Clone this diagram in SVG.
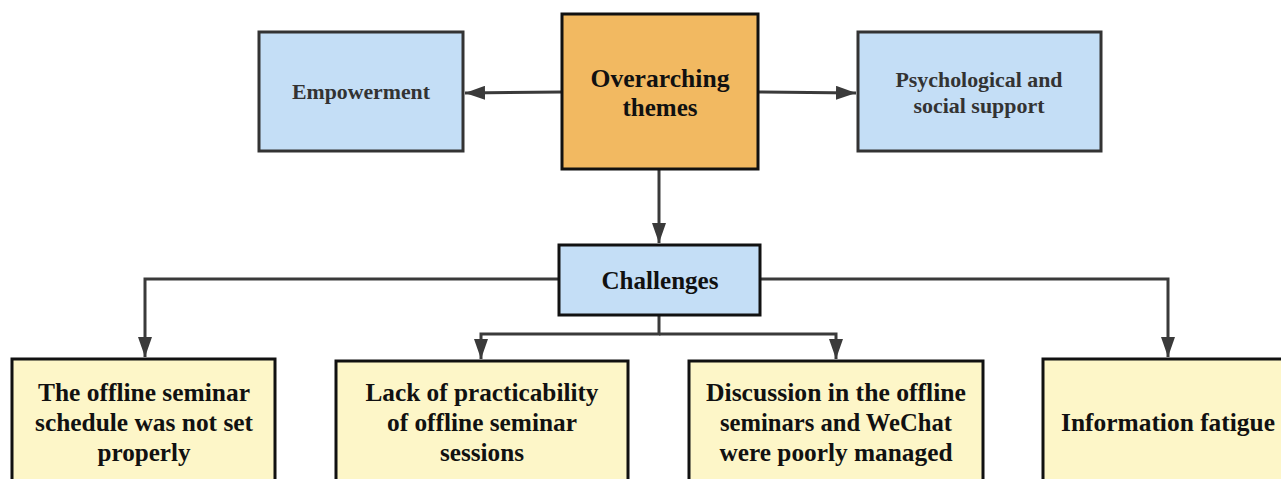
<svg xmlns="http://www.w3.org/2000/svg" width="1281" height="479" viewBox="0 0 1281 479">
<style>
.blue{fill:#c4def6;stroke:#333;stroke-width:3}
.orange{fill:#f2b961;stroke:#111;stroke-width:3}
.yellow{fill:#fdf6c8;stroke:#111;stroke-width:3}
.t{font-family:"Liberation Serif","Times New Roman",serif;font-weight:bold;text-anchor:middle}
.big{font-size:26px;fill:#111}
.small{font-size:21px;fill:#333}
.conn{fill:none;stroke:#3a3a3a;stroke-width:3}
</style>
<defs>
<marker id="ah" markerUnits="userSpaceOnUse" markerWidth="20" markerHeight="14" refX="20" refY="7" orient="auto">
<path d="M0,0 L20,7 L0,14 z" fill="#3a3a3a"/>
</marker>
</defs>
<rect width="1281" height="479" fill="#fff"/>
<g id="connectors">
<path class="conn" d="M562,92 L465,93" marker-end="url(#ah)"/>
<path class="conn" d="M758,92 L856,93" marker-end="url(#ah)"/>
<path class="conn" d="M659,169 V243" marker-end="url(#ah)"/>
<path class="conn" d="M559,279 H145 V357" marker-end="url(#ah)"/>
<path class="conn" d="M760,279 H1168 V357" marker-end="url(#ah)"/>
<path class="conn" d="M659,315 V334 H481 V359" marker-end="url(#ah)"/>
<path class="conn" d="M659,334 H836 V359" marker-end="url(#ah)"/>
</g>
<g id="overarching">
<rect class="orange" x="562" y="14" width="196" height="155"/>
<text class="t big" x="660" y="87" textLength="139" lengthAdjust="spacingAndGlyphs">Overarching</text>
<text class="t big" x="660" y="116" textLength="75" lengthAdjust="spacingAndGlyphs">themes</text>
</g>
<g id="empowerment">
<rect class="blue" x="259" y="32" width="204" height="119"/>
<text class="t small" x="361" y="99" textLength="138" lengthAdjust="spacingAndGlyphs">Empowerment</text>
</g>
<g id="psych">
<rect class="blue" x="858" y="32" width="243" height="119"/>
<text class="t small" x="979" y="87" textLength="167" lengthAdjust="spacingAndGlyphs">Psychological and</text>
<text class="t small" x="979" y="113" textLength="131" lengthAdjust="spacingAndGlyphs">social support</text>
</g>
<g id="challenges">
<rect class="blue" x="559" y="245" width="201" height="70" style="stroke:#111"/>
<text class="t big" x="660" y="289" textLength="117" lengthAdjust="spacingAndGlyphs">Challenges</text>
</g>
<g id="schedule">
<rect class="yellow" x="12" y="359" width="263" height="140"/>
<text class="t big" x="144" y="401" textLength="212" lengthAdjust="spacingAndGlyphs">The offline seminar</text>
<text class="t big" x="144" y="431" textLength="218" lengthAdjust="spacingAndGlyphs">schedule was not set</text>
<text class="t big" x="144" y="461" textLength="93" lengthAdjust="spacingAndGlyphs">properly</text>
</g>
<g id="practicability">
<rect class="yellow" x="336" y="361" width="292" height="140"/>
<text class="t big" x="482" y="401" textLength="233" lengthAdjust="spacingAndGlyphs">Lack of practicability</text>
<text class="t big" x="482" y="431" textLength="190" lengthAdjust="spacingAndGlyphs">of offline seminar</text>
<text class="t big" x="482" y="461" textLength="84" lengthAdjust="spacingAndGlyphs">sessions</text>
</g>
<g id="discussion">
<rect class="yellow" x="689" y="361" width="294" height="140"/>
<text class="t big" x="836" y="401" textLength="260" lengthAdjust="spacingAndGlyphs">Discussion in the offline</text>
<text class="t big" x="836" y="431" textLength="232" lengthAdjust="spacingAndGlyphs">seminars and WeChat</text>
<text class="t big" x="836" y="461" textLength="233" lengthAdjust="spacingAndGlyphs">were poorly managed</text>
</g>
<g id="fatigue">
<rect class="yellow" x="1043" y="359" width="260" height="140"/>
<text class="t big" x="1168" y="431" textLength="214" lengthAdjust="spacingAndGlyphs">Information fatigue</text>
</g>
</svg>
